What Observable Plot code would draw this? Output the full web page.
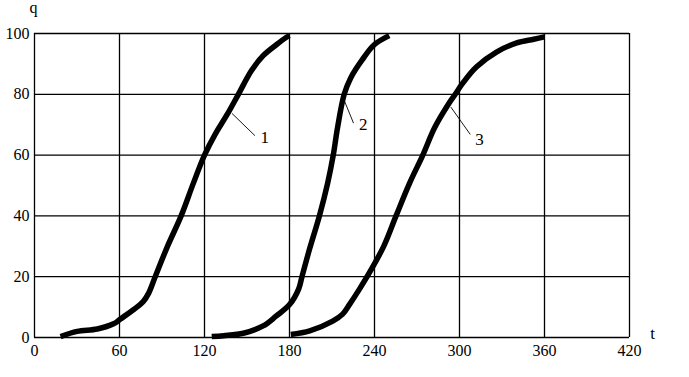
<!DOCTYPE html>
<html>
<head>
<meta charset="utf-8">
<script src="https://cdn.jsdelivr.net/npm/d3@7"></script>
<script src="https://cdn.jsdelivr.net/npm/@observablehq/plot@0.6"></script>
<style>
  html, body { margin: 0; padding: 0; background: #fff; }
  #chart svg { display: block; }
  #chart svg text { font-family: "Liberation Serif", "Times New Roman", serif !important; fill: #000; }
</style>
</head>
<body>
<div id="chart"></div>
<script>
// Curve 1
const t1 = [18.4, 30.1, 44.3, 55.8, 60.7, 70.3, 76.7, 80.6, 85.2, 93.8, 103.5, 112.1, 120, 127.7, 135.8, 143.9, 153.2, 161.4, 170.7, 177.6, 180];
const q1 = [0.3, 2.0, 2.8, 4.5, 6.1, 9.3, 11.8, 14.6, 20, 29.9, 40, 50.7, 60, 67, 73.2, 80, 87.8, 92.7, 96.3, 98.7, 99.3];
// Curve 2
const t2 = [125.1, 133.5, 147.4, 161.4, 170.5, 180.2, 186.5, 188.8, 194.1, 201.1, 206.9, 210.9, 213.9, 218.6, 223.2, 231.4, 239.8, 250.4];
const q2 = [0.3, 0.6, 1.4, 3.8, 7.0, 10.9, 16, 20, 29, 40, 50.7, 60, 69, 80, 85.4, 91.4, 96.3, 99.3];
// Curve 3
const t3 = [180.9, 194.3, 210.5, 217.5, 222.4, 229.5, 236.5, 246.4, 255.2, 264.7, 274.1, 282.4, 291.8, 297, 302, 311.9, 326.1, 340.4, 352.4, 360];
const q3 = [1.0, 2.2, 5.4, 7.7, 10.9, 16, 21.4, 29.9, 40, 50.7, 60, 69, 76.5, 80, 83.5, 89, 93.9, 96.9, 98.1, 98.9];

const xTicks = [0, 60, 120, 180, 240, 300, 360, 420];
const yTicks = [0, 20, 40, 60, 80, 100];

// Curve labels with leader lines (data units)
const labelText = ["1", "2", "3"];
const leadX1 = [139.3, 218.7, 293.9];
const leadY1 = [73.75, 77.9, 75.8];
const leadX2 = [155.6, 225.2, 307.6];
const leadY2 = [66.4, 70.5, 66.8];
const labelX = [162.6, 232.0, 314.2];
const labelY = [65.7, 70.2, 65.0];

const curves = [
  ...t1.map((t, i) => ({t, q: q1[i], k: 1})),
  ...t2.map((t, i) => ({t, q: q2[i], k: 2})),
  ...t3.map((t, i) => ({t, q: q3[i], k: 3}))
];
const labels = labelText.map((s, i) => ({
  s, x1: leadX1[i], y1: leadY1[i], x2: leadX2[i], y2: leadY2[i], x: labelX[i], y: labelY[i]
}));

const font = "Liberation Serif";

const chart = Plot.plot({
  width: 689,
  height: 377,
  marginLeft: 34,
  marginRight: 60,
  marginTop: 33,
  marginBottom: 40,
  style: {fontFamily: font, fontSize: "16px", color: "#000", background: "#fff"},
  x: {domain: [0, 420]},
  y: {domain: [0, 100]},
  marks: [
    Plot.gridX(xTicks, {stroke: "#000", strokeOpacity: 1, strokeWidth: 1.3}),
    Plot.gridY(yTicks, {stroke: "#000", strokeOpacity: 1, strokeWidth: 1.3}),
    Plot.axisX(xTicks, {tickSize: 0, tickPadding: 7, label: null, fontSize: 16}),
    Plot.axisY(yTicks, {tickSize: 0, tickPadding: 5, label: null, fontSize: 16}),
    Plot.line(curves, {x: "t", y: "q", z: "k", stroke: "#000", strokeWidth: 5.5, curve: "catmull-rom", strokeLinecap: "butt", strokeLinejoin: "round"}),
    Plot.link(labels, {x1: "x1", y1: "y1", x2: "x2", y2: "y2", stroke: "#000", strokeWidth: 0.9}),
    Plot.text(labels, {x: "x", y: "y", text: "s", fill: "#000", fontSize: 17, textAnchor: "middle"}),
    Plot.text(["q"], {frameAnchor: "top-left", text: d => d, dx: -1, dy: -21, lineAnchor: "bottom", textAnchor: "middle", fontSize: 16, fill: "#000"}),
    Plot.text(["t"], {frameAnchor: "bottom-right", text: d => d, dx: 23, dy: 1, lineAnchor: "bottom", textAnchor: "middle", fontSize: 17, fill: "#000"})
  ]
});
document.getElementById("chart").appendChild(chart);
</script>
</body>
</html>
